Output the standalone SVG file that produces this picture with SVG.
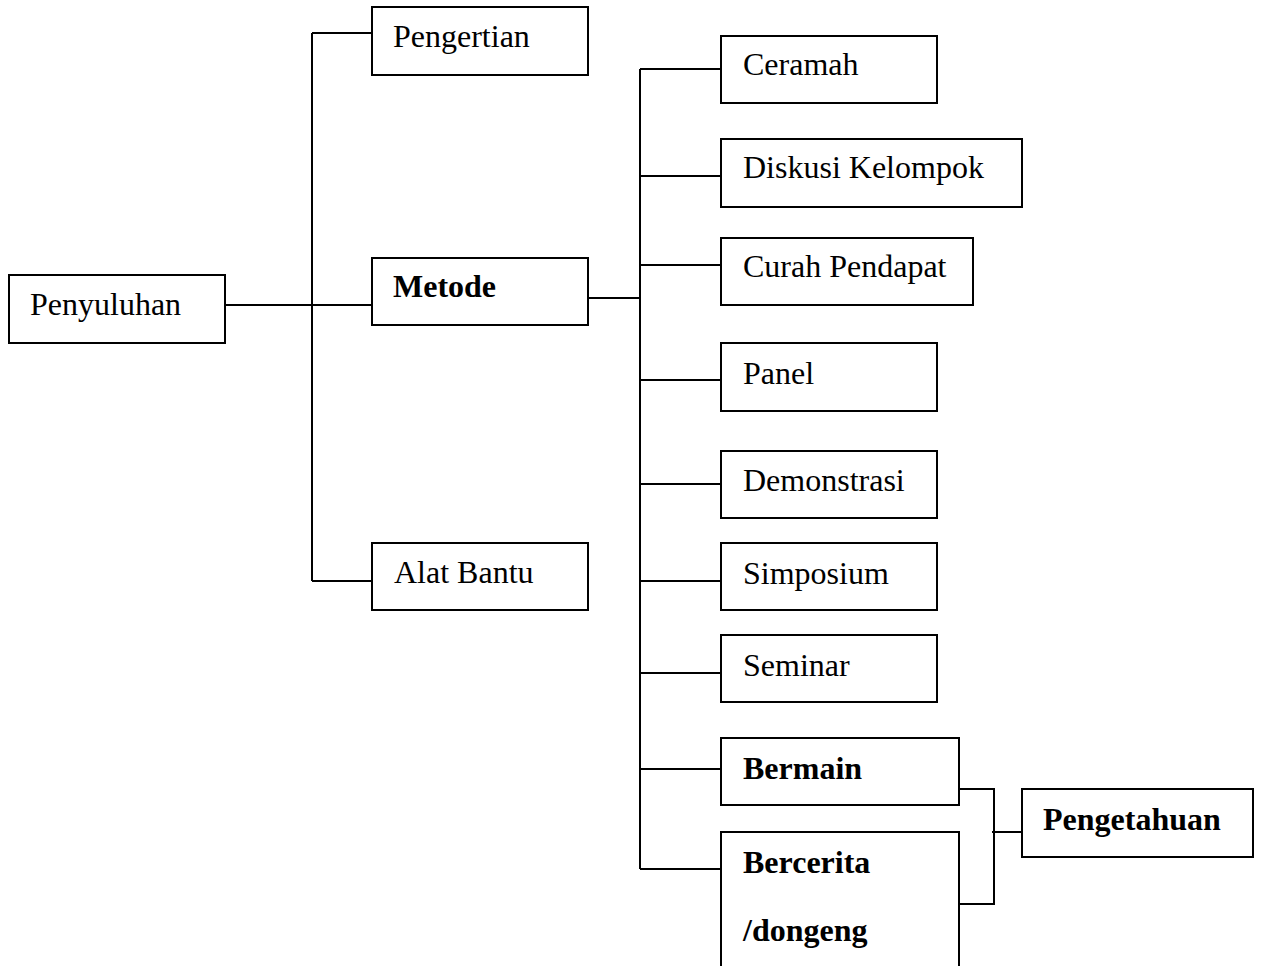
<svg xmlns="http://www.w3.org/2000/svg" width="1262" height="966" viewBox="0 0 1262 966">
<style>
.box{fill:#fff;stroke:#000;stroke-width:2}
.t{font-family:"Liberation Serif","Times New Roman",serif;font-size:32px;fill:#000}
.b{font-weight:bold}
.c{fill:none;stroke:#000;stroke-width:2}
</style>
<rect width="1262" height="966" fill="#fff"/>
<g id="connectors">
<path class="c" d="M225 305 H372"/>
<path class="c" d="M312 33 V581"/>
<path class="c" d="M312 33 H372"/>
<path class="c" d="M312 581 H372"/>
<path class="c" d="M588 298 H640"/>
<path class="c" d="M640 69 V869"/>
<path class="c" d="M640 69 H721"/>
<path class="c" d="M640 176 H721"/>
<path class="c" d="M640 265 H721"/>
<path class="c" d="M640 380 H721"/>
<path class="c" d="M640 484 H721"/>
<path class="c" d="M640 581 H721"/>
<path class="c" d="M640 673 H721"/>
<path class="c" d="M640 769 H721"/>
<path class="c" d="M640 869 H721"/>
<path class="c" d="M959 789 H994 V904 H959"/>
<path class="c" d="M992 832 H1022"/>
</g>
<g id="penyuluhan"><rect class="box" x="9" y="275" width="216" height="68"/><text class="t" x="30" y="315">Penyuluhan</text></g>
<g id="pengertian"><rect class="box" x="372" y="7" width="216" height="68"/><text class="t" x="393" y="47">Pengertian</text></g>
<g id="metode"><rect class="box" x="372" y="258" width="216" height="67"/><text class="t b" x="393" y="297">Metode</text></g>
<g id="alat-bantu"><rect class="box" x="372" y="543" width="216" height="67"/><text class="t" x="394" y="583">Alat Bantu</text></g>
<g id="ceramah"><rect class="box" x="721" y="36" width="216" height="67"/><text class="t" x="743" y="75">Ceramah</text></g>
<g id="diskusi"><rect class="box" x="721" y="139" width="301" height="68"/><text class="t" x="743" y="178">Diskusi Kelompok</text></g>
<g id="curah"><rect class="box" x="721" y="238" width="252" height="67"/><text class="t" x="743" y="277">Curah Pendapat</text></g>
<g id="panel"><rect class="box" x="721" y="343" width="216" height="68"/><text class="t" x="743" y="384">Panel</text></g>
<g id="demonstrasi"><rect class="box" x="721" y="451" width="216" height="67"/><text class="t" x="743" y="491">Demonstrasi</text></g>
<g id="simposium"><rect class="box" x="721" y="543" width="216" height="67"/><text class="t" x="743" y="584">Simposium</text></g>
<g id="seminar"><rect class="box" x="721" y="635" width="216" height="67"/><text class="t" x="743" y="676">Seminar</text></g>
<g id="bermain"><rect class="box" x="721" y="738" width="238" height="67"/><text class="t b" x="743" y="779">Bermain</text></g>
<g id="bercerita"><rect class="box" x="721" y="832" width="238" height="150"/><text class="t b" x="743" y="873">Bercerita</text><text class="t b" x="743" y="941">/dongeng</text></g>
<g id="pengetahuan"><rect class="box" x="1022" y="789" width="231" height="68"/><text class="t b" x="1043" y="830">Pengetahuan</text></g>
</svg>
